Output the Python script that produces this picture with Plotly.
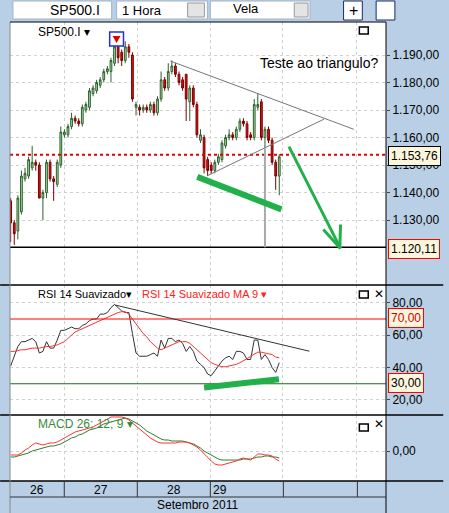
import plotly.graph_objects as go

# ---------------- data ----------------
opens  = [1137,1129,1126,1133,1145,1146,1149,1151,1150,1138,1140,1151,1145,1143,1150,1161,1161,1164,1167,1166,
          1165,1170,1171,1176,1177,1179,1181,1184,1184,1187,1193,1191,1188,1193,1190,1171,1171,1170,1171,1170,
          1172,1169,1174,1181,1178,1184,1186,1183,1181,1183,1173,1178,1172,1159,1160,1152,1150,1148,1151,1152,
          1157,1160,1161,1160,1163,1166,1165,1161,1160,1171,1173,1160,1163,1159,1151,1146]
closes = [1129,1125,1138,1146,1147,1152,1151,1150,1138,1140,1151,1145,1144,1151,1162,1162,1164,1167,1166,1165,
          1171,1172,1177,1178,1180,1181,1184,1185,1188,1193,1189,1188,1193,1191,1174,1172,1170,1171,1170,1172,
          1169,1174,1181,1178,1184,1186,1183,1180,1178,1174,1178,1172,1161,1161,1149,1148,1148,1151,1153,1158,
          1160,1161,1160,1163,1166,1165,1160,1160,1172,1172,1160,1163,1159,1151,1146,1153]
highs  = [1138,1130,1139,1148,1149,1153,1157,1152,1151,1141,1152,1152,1146,1152,1164,1163,1165,1169,1168,1167,
          1172,1173,1178,1179,1181,1182,1185,1186,1189,1194,1194,1192,1195,1194,1191,1173,1172,1172,1172,1173,
          1173,1175,1184,1182,1187,1188,1187,1184,1182,1183,1179,1179,1173,1163,1161,1153,1151,1152,1154,1159,
          1161,1163,1162,1164,1167,1167,1166,1162,1174,1176,1174,1164,1164,1160,1152,1154]
lows   = [1122,1121,1123,1132,1144,1145,1148,1148,1138,1130,1138,1144,1137,1142,1149,1160,1160,1163,1165,1164,
          1164,1169,1170,1175,1176,1178,1180,1183,1180,1186,1187,1186,1187,1189,1173,1168,1168,1169,1169,1169,
          1168,1168,1173,1177,1177,1183,1182,1179,1177,1166,1166,1171,1160,1158,1147,1146,1147,1147,1150,1151,
          1156,1159,1159,1159,1162,1164,1159,1159,1159,1170,1159,1156,1158,1150,1141,1139]
rsi = [41,47,53,56,56,57,58,56,49,50,56,52,52,57,63,63,64,65,64,64,66,67,69,70,70,73,73,74,77,79,
       77,75,74,74,61,49,47,47,47,48,49,47,57,52,58,58,56,57,55,50,53,50,44,42,40,36,35,38,41,44,
       46,47,45,50,50,49,45,45,57,57,45,48,45,40,37,43]
rsi_ma = [50,50,50.5,51,51,51.5,52,52,52,52.5,53,53,53.5,54,55,56,58,60,62,63,64,65,66,67,68,69,70,71,72,73,
          74,74.5,74.5,73,70,67,64,61,59,56,54,52,51,52,53,54,55,56,56,56,55,53,51,49,47,45,43,42,41,40.5,
          40.5,41,41.5,42,43,44,45.5,47,48.5,49.5,49.5,49,48.5,48,46.5,46]
macd = [-4,-4,-4,-2,1,3,6,8,7,6,7,8,8,9,11,13,15,17,19,20,21,22,23,24,26,28,30,32,34,34,
        34,34,33,31,28,25,22,19,16,13,11,9,8,8,8,8,8,9,9,9,8,6,4,1,-3,-7,-10,-13,-14,-14,
        -13,-12,-11,-10,-8,-7,-8,-9,-6,-3,-3,-4,-4,-5,-8,-10]
signal = [-6,-6,-5,-4,-3,-2,0,1,2,3,4,5,5,6,7,9,11,13,14,16,17,19,21,22,23,25,27,28,29,30,
          31,32,33,32,30,28,26,23,20,18,16,14,12,11,11,10,10,10,10,9,8,7,5,3,0,-2,-4,-6,-8,-9,
          -9,-9,-9,-9,-9,-8,-8,-8,-7,-6,-6,-5,-5,-6,-6,-7]
price_ticks = [1130,1140,1150,1160,1170,1180,1190]
price_labels = ["1.130,00","1.140,00","1.150,00","1.160,00","1.170,00","1.180,00","1.190,00"]
rsi_ticks = [20,40,60,80]
rsi_labels = ["20,00","40,00","60,00","80,00"]
last_price = 1153.76
target_price = 1120.11
day_labels = ["26","27","28","29"]

x = list(range(len(closes)))
W, H = 449, 513
L, R, T, B = 10, 58, 22, 32
def px(v): return (v - L) / (W - L - R)
def py(v): return (H - B - v) / (H - T - B)

BG = "#b9cfe5"
FONT = "Liberation Sans"
fig = go.Figure()
fig.add_trace(go.Candlestick(x=x, open=opens, high=highs, low=lows, close=closes,
    increasing=dict(line=dict(color="#2f5f2f", width=1), fillcolor="#9fe29f"),
    decreasing=dict(line=dict(color="#7a0000", width=1), fillcolor="#e01010"),
    whiskerwidth=0, xaxis="x", yaxis="y", showlegend=False))
fig.add_trace(go.Scatter(x=x, y=rsi, mode="lines", line=dict(color="#333333", width=1), yaxis="y2", showlegend=False))
fig.add_trace(go.Scatter(x=x, y=rsi_ma, mode="lines", line=dict(color="#ff3030", width=1), yaxis="y2", showlegend=False))
fig.add_trace(go.Scatter(x=x, y=signal, mode="lines", line=dict(color="#2e7d32", width=1), yaxis="y3", showlegend=False))
fig.add_trace(go.Scatter(x=x, y=macd, mode="lines", line=dict(color="#ff3030", width=1), yaxis="y3", showlegend=False))

xr = [-0.19, 104.8]
shapes = []
shapes += [dict(type="line", xref="paper", yref="y", x0=0, x1=1, y0=last_price, y1=last_price, line=dict(color="#e00000", width=2, dash="dot")),
           dict(type="line", xref="paper", yref="y", x0=0, x1=1, y0=target_price, y1=target_price, line=dict(color="black", width=1.5)),
           dict(type="line", x0=44.6, x1=95.8, y0=1187.8, y1=1163, line=dict(color="#777", width=1)),
           dict(type="line", x0=54.9, x1=87.5, y0=1146.1, y1=1166.7, line=dict(color="#777", width=1)),
           dict(type="line", x0=71, x1=71, y0=1156, y1=target_price, line=dict(color="#aaaaaa", width=2)),
           dict(type="line", x0=52.1, x1=75.6, y0=1145.7, y1=1133.9, line=dict(color="#22b04a", width=6)),
           dict(type="line", x0=77.7, x1=92.1, y0=1156.7, y1=1119.7, line=dict(color="#22b04a", width=3)),
           dict(type="line", x0=87.3, x1=92.1, y0=1126.6, y1=1119.7, line=dict(color="#22b04a", width=3)),
           dict(type="line", x0=92.1, x1=91.9, y0=1128.4, y1=1119.7, line=dict(color="#22b04a", width=3))]
shapes += [dict(type="line", xref="paper", yref="y2", x0=0, x1=1, y0=70, y1=70, line=dict(color="#ff0000", width=1)),
           dict(type="line", xref="paper", yref="y2", x0=0, x1=1, y0=30, y1=30, line=dict(color="#1b6b1b", width=1)),
           dict(type="line", xref="x", yref="y2", x0=29.2, x1=83.4, y0=78.6, y1=50.1, line=dict(color="#333", width=1)),
           dict(type="line", xref="x", yref="y2", x0=54, x1=74.9, y0=27.7, y1=32.8, line=dict(color="#22b04a", width=6))]
for yy in [285, 415, 481]:
    shapes.append(dict(type="line", xref="paper", yref="paper", x0=px(0), x1=px(449), y0=py(yy), y1=py(yy), line=dict(color="black", width=1.5)))
shapes.append(dict(type="line", xref="paper", yref="paper", x0=px(391), x1=px(391), y0=py(513), y1=py(22), line=dict(color="black", width=1)))
shapes.append(dict(type="line", xref="paper", yref="paper", x0=px(10), x1=px(10), y0=py(513), y1=py(22), line=dict(color="#888", width=1)))
shapes.append(dict(type="line", xref="paper", yref="paper", x0=px(10), x1=px(391), y0=py(22), y1=py(22), line=dict(color="black", width=1)))
shapes.append(dict(type="rect", xref="paper", yref="paper", x0=px(10), x1=px(391), y0=py(497), y1=py(482), fillcolor="#b9cfe5", line=dict(width=0), layer="below"))
shapes.append(dict(type="line", xref="paper", yref="paper", x0=px(10), x1=px(391), y0=py(497), y1=py(497), line=dict(color="#333", width=1)))
for dx in [65, 139, 213, 287, 362]:
    shapes.append(dict(type="line", xref="paper", yref="paper", x0=px(dx), x1=px(dx), y0=py(482), y1=py(497), line=dict(color="#333", width=1)))
for (a, b) in [(13, 113), (118, 210), (213, 314)]:
    shapes.append(dict(type="rect", xref="paper", yref="paper", x0=px(a), x1=px(b), y0=py(19), y1=py(1), fillcolor="white", line=dict(color="#a0b4c8", width=1)))
for (a, b) in [(190, 207), (298, 312)]:
    shapes.append(dict(type="rect", xref="paper", yref="paper", x0=px(a), x1=px(b), y0=py(17), y1=py(3), fillcolor="#e4e4e4", line=dict(color="#999", width=1)))
for (a, b) in [(348, 367), (381, 400)]:
    shapes.append(dict(type="rect", xref="paper", yref="paper", x0=px(a), x1=px(b), y0=py(20), y1=py(1), fillcolor="white", line=dict(color="#1a2a6a", width=1)))
for yy0 in [27, 291, 424]:
    shapes.append(dict(type="rect", xref="paper", yref="paper", x0=px(364), x1=px(373), y0=py(yy0 + 7), y1=py(yy0), line=dict(color="black", width=1.5)))
shapes.append(dict(type="rect", xref="paper", yref="paper", x0=px(111), x1=px(125), y0=py(46), y1=py(32), fillcolor="white", line=dict(color="#2030e0", width=1.5)))
shapes.append(dict(type="path", xref="paper", yref="paper",
    path=f"M {px(114)},{py(36)} L {px(122)},{py(36)} L {px(118)},{py(43)} Z", fillcolor="#e00000", line=dict(width=0)))

ann = []
def text(xp, yp, s, color="black", size=12, anchor="left"):
    ann.append(dict(xref="paper", yref="paper", x=px(xp), y=py(yp), text=s, showarrow=False,
                    xanchor=anchor, yanchor="middle", font=dict(color=color, size=size, family=FONT)))
text(48, 10, "SP500.I", size=14)
text(121, 10, "1 Hora", size=13)
text(234, 9, "Vela", size=13)
text(36, 32, "SP500.I ▾", size=12)
text(386, 63, "Teste ao triangulo?", size=14, anchor="right")
text(36, 294, "RSI 14 Suavizado▾", size=11)
text(142, 294, "RSI 14 Suavizado MA 9 ▾", color="#ff2020", size=11)
text(36, 424, "MACD 26; 12; 9 ▾", color="#3a8a3a", size=12)
text(377, 294, "✕", size=12)
text(377, 424, "✕", size=12)
text(351, 10, "+", size=16)
text(37, 490, day_labels[0], anchor="center")
text(102, 490, day_labels[1], anchor="center")
text(176, 490, day_labels[2], anchor="center")
text(223, 490, day_labels[3], anchor="center")
text(200, 505, "Setembro 2011", anchor="center")
def box(yp, s, border, color="black"):
    ann.append(dict(xref="paper", yref="paper", x=px(393), y=py(yp), text=s, showarrow=False, xanchor="left", yanchor="middle",
                    bgcolor="#fbf6dc", bordercolor=border, borderwidth=1, borderpad=2,
                    font=dict(color=color, size=12, family=FONT)))
box(156, "1.153,76", "black")
box(249, "1.120,11", "#ff0000")
box(318, "70,00", "#ff0000", "#d00000")
box(383, "30,00", "#ff0000")

grid = dict(showgrid=True, gridcolor="#d0d0d0", griddash="dot", gridwidth=1)
tf = dict(family=FONT, size=12, color="black")
fig.update_layout(
    width=W, height=H, margin=dict(l=L, r=R, t=T, b=B),
    paper_bgcolor=BG, plot_bgcolor="white", shapes=shapes, annotations=ann,
    font=dict(family=FONT, size=12, color="black"),
    xaxis=dict(range=xr, domain=[0, 1], anchor="y3", showticklabels=False, rangeslider=dict(visible=False),
               tickvals=[15, 35.3, 55.7, 76, 96.7], zeroline=False, **grid),
    yaxis=dict(domain=[py(285), 1], range=[1106.4, 1202], side="right", tickvals=price_ticks, ticktext=price_labels,
               ticks="outside", ticklen=3, zeroline=False, tickfont=tf, **grid),
    yaxis2=dict(domain=[py(415), py(285)], range=[10.7, 91], side="right", tickvals=rsi_ticks, ticktext=rsi_labels,
                ticks="outside", ticklen=3, zeroline=False, anchor="x", tickfont=tf, **grid),
    yaxis3=dict(domain=[0, py(415)], range=[-30, 36], side="right", tickvals=[0], ticktext=["0,00"],
                ticks="outside", ticklen=3, zeroline=False, anchor="x", tickfont=tf, **grid),
)
fig.write_html("out.html", config={"displayModeBar": False},
               post_script="document.body.style.margin='0';document.body.style.background='#b9cfe5';document.body.style.overflow='hidden';")
